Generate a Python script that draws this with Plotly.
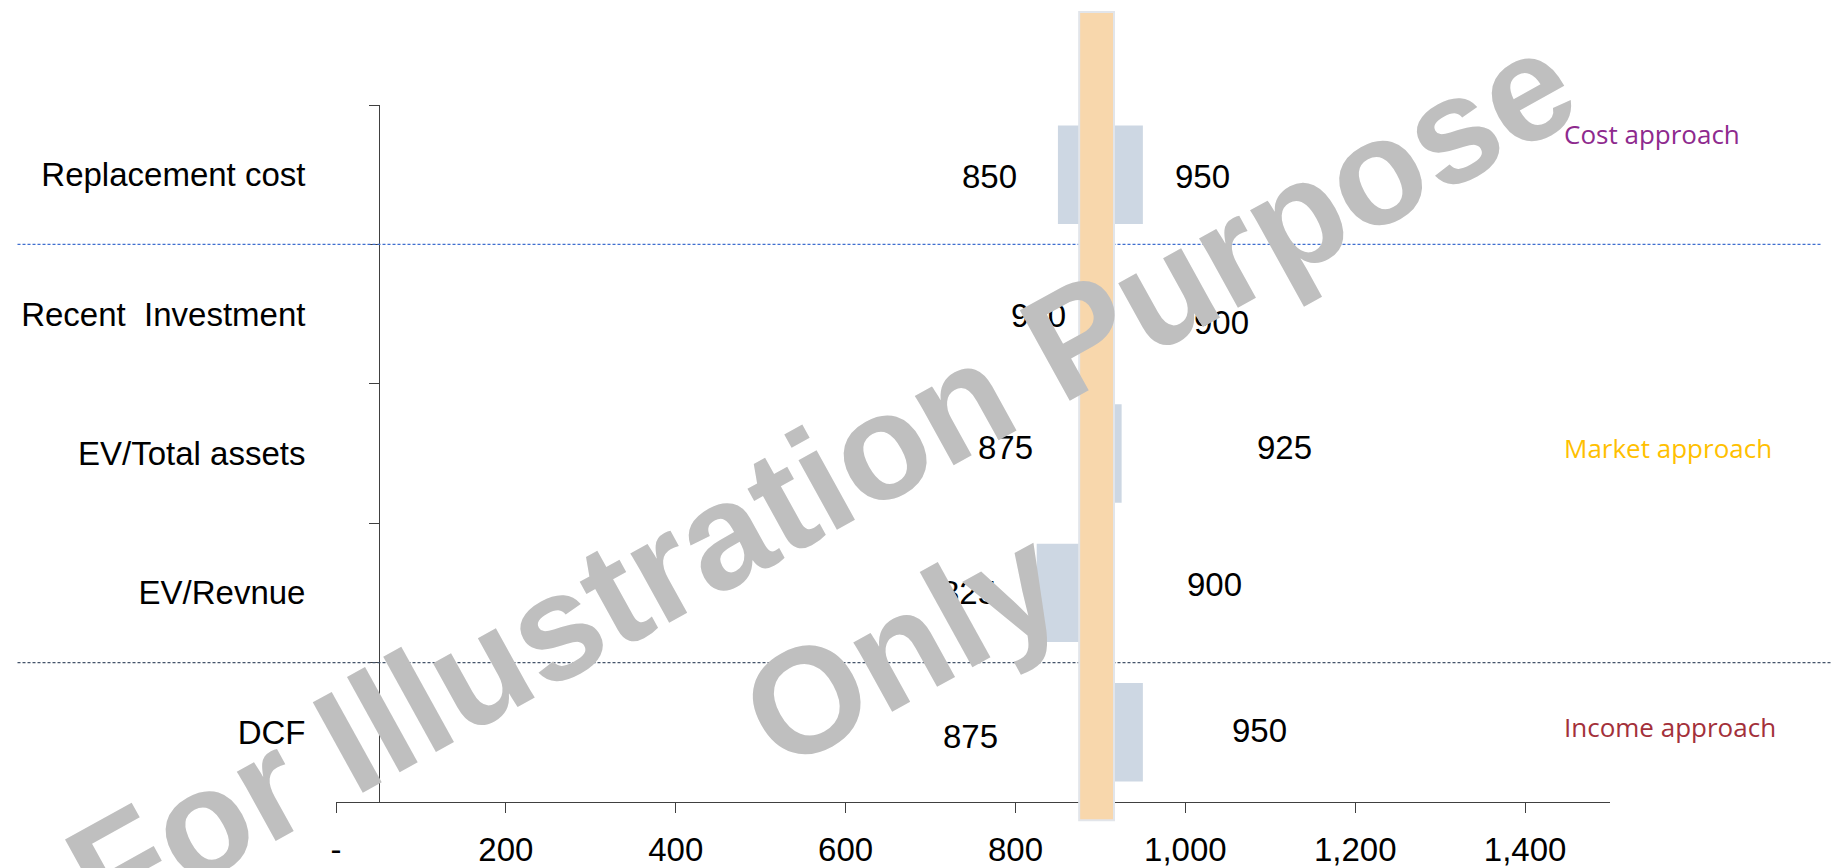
import plotly.graph_objects as go

# ---------------- data ----------------
categories = ["Replacement cost", "Recent  Investment", "EV/Total assets", "EV/Revnue", "DCF"]
low_values = [850, 900, 875, 825, 875]
high_values = [950, 900, 925, 900, 950]
band_range = [875, 916]
x_tick_values = [0, 200, 400, 600, 800, 1000, 1200, 1400]
x_tick_labels = ["-", "200", "400", "600", "800", "1,000", "1,200", "1,400"]
approach_labels = ["Cost approach", "Market approach", "Income approach"]
watermark_lines = ["For Illustration Purpose", "Only"]

# ---------------- layout helpers (pixel offsets / styles) ----------------
low_label_dx = [-68, -62, -74, -68, -109]
high_label_dx = [60, 121, 163, 114, 117]
low_label_dy = [-2, -1, 6, 0, -4]
high_label_dy = [-2, -8, 6, 8, 2]
approach_colors = ["#8E2A8E", "#FFC000", "#A3303A"]
approach_y = [0.958, 0.508, 0.108]

FONT = "Liberation Sans, Arial, sans-serif"
FS = 33

fig = go.Figure()

fig.add_trace(go.Bar(
    y=categories,
    x=[h - l for l, h in zip(low_values, high_values)],
    base=low_values,
    orientation="h",
    width=0.706,
    marker=dict(color="#CDD7E3", line=dict(width=0)),
    hoverinfo="skip",
    showlegend=False,
))

shapes = []
# dashed separators
shapes.append(dict(type="line", xref="paper", yref="paper", x0=-0.25, x1=1.1664, y0=0.8, y1=0.8,
                   line=dict(color="#3F6FD0", width=1.2, dash="3px,2px"), layer="above"))
shapes.append(dict(type="line", xref="paper", yref="paper", x0=-0.25, x1=1.2, y0=0.2, y1=0.2,
                   line=dict(color="#44546A", width=1.2, dash="3px,2px"), layer="above"))
# orange band
shapes.append(dict(type="rect", xref="x", yref="paper", x0=band_range[0], x1=band_range[1],
                   y0=-0.0263, y1=1.1335, fillcolor="#F8D7AC",
                   line=dict(color="#E2E5EA", width=2), layer="above"))

annotations = []
for i, cat in enumerate(categories):
    annotations.append(dict(x=low_values[i], y=cat, xref="x", yref="y", text=f"{low_values[i]:,}",
                            showarrow=False, xshift=low_label_dx[i], yshift=low_label_dy[i],
                            font=dict(family=FONT, size=FS, color="black")))
    annotations.append(dict(x=high_values[i], y=cat, xref="x", yref="y", text=f"{high_values[i]:,}",
                            showarrow=False, xshift=high_label_dx[i], yshift=high_label_dy[i],
                            font=dict(family=FONT, size=FS, color="black")))

for lab, col, yy in zip(approach_labels, approach_colors, approach_y):
    annotations.append(dict(x=0.9623, y=yy, xref="paper", yref="paper", text=lab, showarrow=False,
                            xanchor="left", yanchor="middle",
                            font=dict(family="Open Sans, Lato, sans-serif", size=26, color=col)))

# watermark
annotations.append(dict(x=0.3810, y=0.463, xref="paper", yref="paper", text=watermark_lines[0],
                        showarrow=False, textangle=-29, xanchor="center", yanchor="middle",
                        font=dict(family=FONT, size=150, color="#BFBFBF", weight="bold")))
annotations.append(dict(x=0.4440, y=0.222, xref="paper", yref="paper", text=watermark_lines[1],
                        showarrow=False, textangle=-29, xanchor="center", yanchor="middle",
                        font=dict(family=FONT, size=150, color="#BFBFBF", weight="bold")))

fig.update_layout(
    width=1831, height=868,
    margin=dict(l=336, r=221, t=105, b=66, autoexpand=False),
    paper_bgcolor="white", plot_bgcolor="white",
    shapes=shapes, annotations=annotations,
    xaxis=dict(range=[0, 1500], tickvals=x_tick_values, ticktext=x_tick_labels, automargin=False,
               showgrid=False, zeroline=False, showline=True, linecolor="#404040", linewidth=1,
               ticks="outside", ticklen=10, tickcolor="#404040",
               tickfont=dict(family=FONT, size=FS, color="black"), ticklabelstandoff=8),
    yaxis=dict(type="category", categoryorder="array", categoryarray=categories,
               autorange="reversed", anchor="free", position=0.0338, automargin=False,
               showgrid=False, zeroline=False, showline=True, linecolor="#404040", linewidth=1,
               ticks="outside", ticklen=10, tickcolor="#404040", tickson="boundaries",
               tickfont=dict(family=FONT, size=FS, color="black"), ticklabelstandoff=67),
)

fig.write_html("out.html")
